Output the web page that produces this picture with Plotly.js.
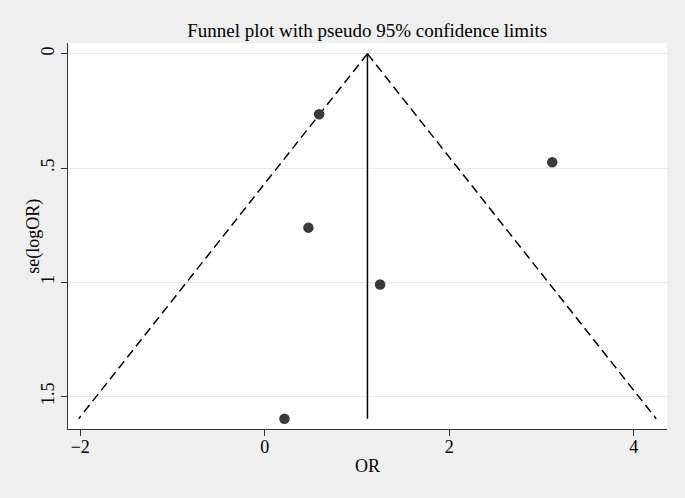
<!DOCTYPE html>
<html>
<head>
<meta charset="utf-8">
<script src="https://cdn.plot.ly/plotly-3.0.1.min.js"></script>
<style>html,body{margin:0;padding:0;background:#efefef;}#chart{width:685px;height:498px;}</style>
</head>
<body>
<div id="chart"></div>
<script>
// Study estimates (x = OR scale as labelled, y = se(logOR))
var studyOR = [0.589, 3.116, 0.473, 1.250, 0.213];
var studySE = [0.265, 0.475, 0.761, 1.010, 1.597];
// Pooled estimate (apex of funnel)
var pooled = 1.113;
var zCrit = 1.96;
var xTickVals = [-2, 0, 2, 4];
var xTickText = ["\u22122", "0", "2", "4"];
var yTickVals = [0, 0.5, 1, 1.5];
var yTickText = ["0", ".5", "1", "1.5"];

var seMax = Math.max.apply(null, studySE);
var leftX = [pooled, pooled - zCrit * seMax];
var rightX = [pooled, pooled + zCrit * seMax];
var limY = [0, seMax];

var traces = [
  {x: leftX, y: limY, mode: 'lines', line: {color: '#000', width: 1.5, dash: '9px,5px'}, hoverinfo: 'skip'},
  {x: rightX, y: limY, mode: 'lines', line: {color: '#000', width: 1.5, dash: '9px,5px'}, hoverinfo: 'skip'},
  {x: [pooled, pooled], y: limY, mode: 'lines', line: {color: '#000', width: 1.5}, hoverinfo: 'skip'},
  {x: studyOR, y: studySE, mode: 'markers', marker: {color: '#3a3a3a', size: 10.5}}
];

var font = {family: '"Liberation Serif", "Times New Roman", serif', color: '#000'};
var layout = {
  width: 685, height: 498,
  margin: {l: 68, r: 18, t: 43, b: 69},
  paper_bgcolor: '#efefef',
  plot_bgcolor: '#ffffff',
  showlegend: false,
  font: Object.assign({size: 17}, font),
  title: {text: 'Funnel plot with pseudo 95% confidence limits', x: 0.536, xanchor: 'center', y: 0.94, yanchor: 'middle',
          font: Object.assign({size: 19}, font)},
  xaxis: {
    range: [-2.133, 4.360], tickvals: xTickVals, ticktext: xTickText,
    showgrid: false, zeroline: false,
    showline: true, linecolor: '#333', linewidth: 1,
    ticks: 'outside', ticklen: 6, tickcolor: '#333', tickwidth: 1,
    ticklabelstandoff: -5,
    tickfont: Object.assign({size: 18}, font)
  },
  yaxis: {
    range: [1.642, -0.047], tickvals: yTickVals, ticktext: yTickText,
    tickangle: -90,
    showgrid: true, gridcolor: '#eaeaea', gridwidth: 1, zeroline: false,
    showline: true, linecolor: '#333', linewidth: 1,
    ticks: 'outside', ticklen: 6, tickcolor: '#333', tickwidth: 1,
    tickfont: Object.assign({size: 18}, font)
  },
  annotations: [
    {text: 'OR', xref: 'paper', yref: 'paper', x: 0.5, y: -0.064, xanchor: 'center', yanchor: 'top',
     showarrow: false, font: Object.assign({size: 18}, font)},
    {text: 'se(logOR)', xref: 'paper', yref: 'paper', x: -0.059, y: 0.5, xanchor: 'center', yanchor: 'middle',
     textangle: -90, showarrow: false, font: Object.assign({size: 18}, font)}
  ]
};
Plotly.newPlot('chart', traces, layout, {displayModeBar: false, staticPlot: true});
</script>
</body>
</html>
